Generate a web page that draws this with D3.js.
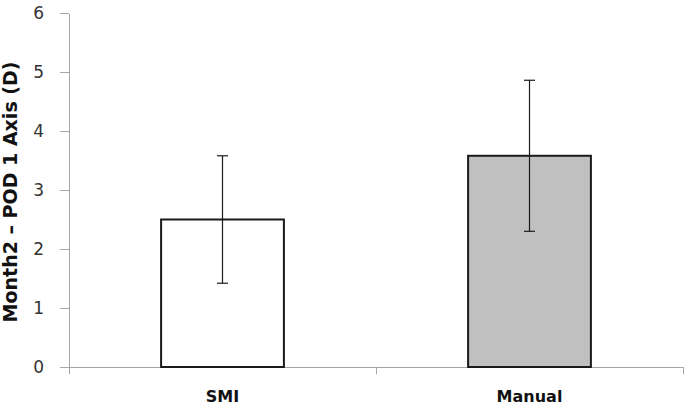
<!DOCTYPE html>
<html>
<head>
<meta charset="utf-8">
<script src="https://cdn.jsdelivr.net/npm/d3@7"></script>
<style>
	body { margin: 0; background: #fff; }
	svg { display: block; }
</style>
</head>
<body>
<div class="svg-container"></div>
<script>
(function () {

	"use strict";

	// data
	var categories 	= [ "SMI", "Manual" ];
	var means 		= [ 2.5, 3.58 ];
	var errors 		= [ 1.08, 1.28 ];
	var fills 		= [ "#ffffff", "#c0c0c0" ];
	var y_ticks 	= [ 0, 1, 2, 3, 4, 5, 6 ];

	var axis_color 	= "#a6a6a6";

	var width 	= 685,
		height 	= 406,
		left 	= 69,
		right 	= 683,
		top 	= 13,
		bottom 	= 367;

	var svg = d3.select(".svg-container").append("svg")
		.attr("width", width)
		.attr("height", height);

	var x = d3.scaleBand()
		.domain(categories)
		.range([ left, right ])
		.paddingInner(0.6)
		.paddingOuter(0.3);

	var y = d3.scaleLinear()
		.domain([ 0, 6 ])
		.range([ bottom, top ]);

	// y axis
	var yAxis = svg.append("g")
		.attr("transform", "translate(" + left + ",0)")
		.call(d3.axisLeft(y).tickValues(y_ticks).tickFormat(d3.format("d"))
			.tickSize(9).tickSizeOuter(0).tickPadding(16));

	yAxis.selectAll("path, line")
		.attr("stroke", axis_color)
		.attr("shape-rendering", "crispEdges");

	yAxis.selectAll("text")
		.attr("fill", "#333")
		.style("font-family", "DejaVu Sans")
		.style("font-size", "17px");

	// x axis
	var xAxis = svg.append("g")
		.attr("transform", "translate(0," + bottom + ")")
		.call(d3.axisBottom(x).tickSize(0).tickSizeOuter(0).tickPadding(23.5));

	xAxis.select(".domain")
		.attr("stroke", axis_color)
		.attr("shape-rendering", "crispEdges");

	xAxis.selectAll("text")
		.attr("fill", "#111")
		.style("font-family", "DejaVu Sans")
		.style("font-weight", "bold")
		.style("font-size", "16px");

	// category boundary ticks
	xAxis.selectAll(".bound")
		.data(d3.range(categories.length + 1))
		.enter()
		.append("line")
		.attr("class", "bound")
		.attr("x1", function (d) { return x.range()[0] + d * x.step(); })
		.attr("x2", function (d) { return x.range()[0] + d * x.step(); })
		.attr("y1", 0)
		.attr("y2", 7)
		.attr("stroke", axis_color)
		.attr("shape-rendering", "crispEdges");

	// bars
	svg.selectAll(".bar")
		.data(categories)
		.enter()
		.append("rect")
		.attr("class", "bar")
		.attr("x", function (d) { return x(d); })
		.attr("y", function (d, i) { return y(means[i]); })
		.attr("width", x.bandwidth())
		.attr("height", function (d, i) { return y(0) - y(means[i]); })
		.attr("fill", function (d, i) { return fills[i]; })
		.attr("stroke", "#1a1a1a")
		.attr("stroke-width", 2);

	// error bars
	var cap = 5.5;

	var err = svg.selectAll(".err")
		.data(categories)
		.enter()
		.append("g")
		.attr("class", "err")
		.attr("stroke", "#1a1a1a")
		.attr("stroke-width", 1.2);

	err.append("line")
		.attr("x1", function (d) { return x(d) + x.bandwidth() / 2; })
		.attr("x2", function (d) { return x(d) + x.bandwidth() / 2; })
		.attr("y1", function (d, i) { return y(means[i] + errors[i]); })
		.attr("y2", function (d, i) { return y(means[i] - errors[i]); });

	err.selectAll(".cap")
		.data(function (d) {
			var i = categories.indexOf(d);
			return [ [ d, means[i] + errors[i] ], [ d, means[i] - errors[i] ] ];
		})
		.enter()
		.append("line")
		.attr("class", "cap")
		.attr("x1", function (d) { return x(d[0]) + x.bandwidth() / 2 - cap; })
		.attr("x2", function (d) { return x(d[0]) + x.bandwidth() / 2 + cap; })
		.attr("y1", function (d) { return y(d[1]); })
		.attr("y2", function (d) { return y(d[1]); });

	// y title
	svg.append("text")
		.attr("transform", "translate(17," + ((top + bottom) / 2 + 2) + ") rotate(-90)")
		.attr("text-anchor", "middle")
		.attr("fill", "#111")
		.style("font-family", "DejaVu Sans")
		.style("font-weight", "bold")
		.style("font-size", "19px")
		.text("Month2 \u2013 POD 1 Axis (D)");

})();
</script>
</body>
</html>
